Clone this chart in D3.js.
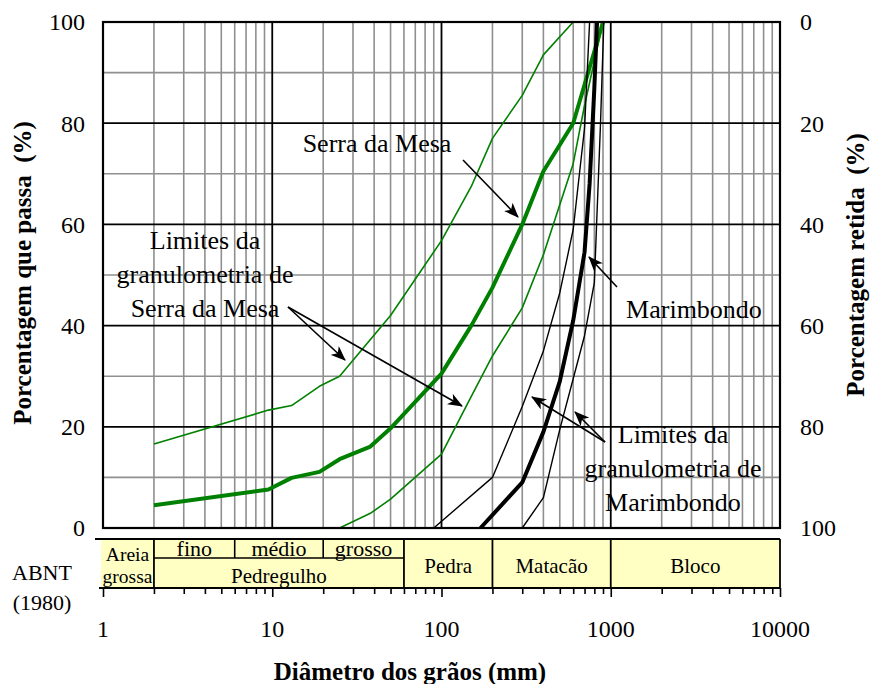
<!DOCTYPE html>
<html>
<head>
<meta charset="utf-8">
<title>Curvas granulométricas</title>
<script src="https://cdn.jsdelivr.net/npm/d3@7"></script>
<style>
  body { margin: 0; background: #fff; }
</style>
</head>
<body>
<div id="chart"></div>
<script>
// curves: [diameter (mm), % passing]
var serraMesa = [[2,4.5],[9.5,7.6],[13,9.9],[19,11.1],[25,13.6],[38,16.1],[50,19.7],[100,30.5],[150,40],[200,47.5],[300,60],[400,70.5],[600,80],[900,100]];
var serraMesaSup = [[2,16.6],[9.5,23.3],[13,24.2],[19,28],[25,30],[50,42],[100,56.8],[150,67.5],[200,77],[300,85.5],[400,93.5],[600,100]];
var serraMesaInf = [[25,0],[38,2.9],[50,5.7],[100,14.6],[150,26],[200,34],[300,43.5],[400,54],[600,72],[700,83.5],[900,100]];
var marimbondo = [[170,0],[300,9],[400,19],[500,29],[600,41],[700,54.5],[750,68],[800,87],[830,100]];
var marimbondoSup = [[90,0],[200,10],[300,24],[400,35],[500,46.5],[600,59],[700,79],[750,100]];
var marimbondoInf = [[300,0],[400,6],[500,19.5],[600,29.5],[700,38],[800,48.5],[870,80],[910,100]];

// ABNT (1980) classes
var classesMain = [{name:["Areia","grossa"], from:1, to:2}, {name:["Pedregulho"], from:2, to:60}, {name:["Pedra"], from:60, to:200}, {name:["Matacão"], from:200, to:1000}, {name:["Bloco"], from:1000, to:10000}];
var classesSub = [{name:"fino", from:2, to:6}, {name:"médio", from:6, to:20}, {name:"grosso", from:20, to:60}];

var yTicks = [0, 20, 40, 60, 80, 100];
var xTickLabels = [1, 10, 100, 1000, 10000];

var W = 870, H = 684;
var svg = d3.select("#chart").append("svg").attr("width", W).attr("height", H)
  .attr("font-family", "'Liberation Serif', 'Times New Roman', 'DejaVu Serif', serif");

var x = d3.scaleLog().domain([1, 10000]).range([103, 780]);
var y = d3.scaleLinear().domain([0, 100]).range([528, 22]);
var yRet = d3.scaleLinear().domain([100, 0]).range([528, 22]);

// arrow head
svg.append("defs").append("marker")
  .attr("id", "arrow").attr("markerUnits", "userSpaceOnUse")
  .attr("markerWidth", 16).attr("markerHeight", 12)
  .attr("refX", 14).attr("refY", 6).attr("orient", "auto")
  .append("path").attr("d", "M0,0 L15,6 L0,12 L4,6 Z").attr("fill", "#000");

// grid
var grid = svg.append("g");
var minorX = x.ticks().filter(function(d) { return Math.abs(Math.log10(d) % 1) > 1e-6; });
var majorX = [10, 100, 1000];
grid.selectAll(".gx").data(minorX).enter().append("line")
  .attr("x1", function(d) { return x(d); }).attr("x2", function(d) { return x(d); })
  .attr("y1", y(0)).attr("y2", y(100))
  .attr("stroke", "#8f8f8f").attr("stroke-width", 1.6);
grid.selectAll(".gy").data(d3.range(10, 100, 20)).enter().append("line")
  .attr("x1", x(1)).attr("x2", x(10000))
  .attr("y1", function(d) { return y(d); }).attr("y2", function(d) { return y(d); })
  .attr("stroke", "#8f8f8f").attr("stroke-width", 1.6);
grid.selectAll(".mx").data(majorX).enter().append("line")
  .attr("x1", function(d) { return x(d); }).attr("x2", function(d) { return x(d); })
  .attr("y1", y(0)).attr("y2", y(100))
  .attr("stroke", "#000").attr("stroke-width", 1.8);
grid.selectAll(".my").data([20, 40, 60, 80]).enter().append("line")
  .attr("x1", x(1)).attr("x2", x(10000))
  .attr("y1", function(d) { return y(d); }).attr("y2", function(d) { return y(d); })
  .attr("stroke", "#000").attr("stroke-width", 1.8);

// curves
var line = d3.line().x(function(d) { return x(d[0]); }).y(function(d) { return y(d[1]); });
var curves = [
  {data: serraMesaSup, color: "#008000", w: 1.6},
  {data: serraMesaInf, color: "#008000", w: 1.6},
  {data: serraMesa, color: "#008000", w: 4},
  {data: marimbondoSup, color: "#000", w: 1.4},
  {data: marimbondoInf, color: "#000", w: 1.4},
  {data: marimbondo, color: "#000", w: 4}
];
svg.append("g").selectAll("path").data(curves).enter().append("path")
  .attr("d", function(c) { return line(c.data); })
  .attr("fill", "none").attr("stroke", function(c) { return c.color; })
  .attr("stroke-width", function(c) { return c.w; })
  .attr("stroke-linejoin", "round");

// plot border
svg.append("rect").attr("x", x(1)).attr("y", y(100))
  .attr("width", x(10000) - x(1)).attr("height", y(0) - y(100))
  .attr("fill", "none").attr("stroke", "#000").attr("stroke-width", 2.2);

// y labels
svg.append("g").selectAll("text").data(yTicks).enter().append("text")
  .attr("x", 85).attr("y", function(d) { return y(d); }).attr("dy", "0.35em")
  .attr("text-anchor", "end").attr("font-size", 24).text(function(d) { return d; });
svg.append("g").selectAll("text").data(yTicks).enter().append("text")
  .attr("x", 800).attr("y", function(d) { return yRet(d); }).attr("dy", "0.35em")
  .attr("text-anchor", "start").attr("font-size", 24).text(function(d) { return d; });

svg.append("text").attr("transform", "translate(31,273) rotate(-90)")
  .attr("text-anchor", "middle").attr("font-size", 25).attr("font-weight", "bold")
  .attr("xml:space", "preserve").text("Porcentagem que passa  (%)");
svg.append("text").attr("transform", "translate(864,265) rotate(-90)")
  .attr("text-anchor", "middle").attr("font-size", 25).attr("font-weight", "bold")
  .attr("xml:space", "preserve").text("Porcentagem retida  (%)");

// ABNT band
var bandTop = 539, bandMid = 558, bandBot = 588;
var band = svg.append("g");
band.append("rect").attr("x", 101).attr("y", bandTop)
  .attr("width", x(10000) - 101).attr("height", bandBot - bandTop).attr("fill", "#ffffc4");
band.append("line").attr("x1", 95).attr("x2", x(10000)).attr("y1", bandTop).attr("y2", bandTop)
  .attr("stroke", "#000").attr("stroke-width", 1.8);
band.selectAll(".sep").data(classesMain.map(function(c) { return c.to; })).enter().append("line")
  .attr("x1", function(d) { return x(d); }).attr("x2", function(d) { return x(d); })
  .attr("y1", bandTop).attr("y2", bandBot).attr("stroke", "#000").attr("stroke-width", 1.8);
band.selectAll(".ssep").data(classesSub.slice(1)).enter().append("line")
  .attr("x1", function(d) { return x(d.from); }).attr("x2", function(d) { return x(d.from); })
  .attr("y1", bandTop).attr("y2", bandMid).attr("stroke", "#000").attr("stroke-width", 1.6);
band.append("line").attr("x1", x(2)).attr("x2", x(60)).attr("y1", bandMid).attr("y2", bandMid)
  .attr("stroke", "#000").attr("stroke-width", 1.6);
band.selectAll(".sub").data(classesSub).enter().append("text")
  .attr("x", function(d) { return (x(d.from) + x(d.to)) / 2; }).attr("y", 556)
  .attr("text-anchor", "middle").attr("font-size", 22).text(function(d) { return d.name; });
classesMain.forEach(function(c) {
  var cx = (x(c.from) + x(c.to)) / 2;
  if (c.from === 1) cx = (101 + x(c.to)) / 2;
  var two = c.name.length === 2;
  var ys = two ? [561, 583] : (c.from === 2 ? [583] : [573]);
  c.name.forEach(function(t, i) {
    band.append("text").attr("x", cx).attr("y", ys[i]).attr("text-anchor", "middle")
      .attr("font-size", two ? 19.5 : 21).text(t);
  });
});

// x axis under band
var xAxis = d3.axisBottom(x).tickValues(x.ticks()).tickSize(5).tickFormat("");
var gx = svg.append("g").attr("transform", "translate(0," + bandBot + ")").call(xAxis);
gx.select(".domain").attr("d", "M99,0H" + x(10000)).attr("stroke", "#000").attr("stroke-width", 1.8);
gx.selectAll(".tick line").attr("stroke", "#000").attr("stroke-width", 1.6)
  .attr("y2", function(d) { return Math.abs(Math.log10(d) % 1) < 1e-6 ? 9 : 6; });
svg.append("g").selectAll("text").data(xTickLabels).enter().append("text")
  .attr("x", function(d) { return x(d); }).attr("y", 637).attr("text-anchor", "middle")
  .attr("font-size", 24).text(function(d) { return d; });

svg.append("text").attr("x", 42).attr("y", 580).attr("text-anchor", "middle").attr("font-size", 22).text("ABNT");
svg.append("text").attr("x", 42).attr("y", 610).attr("text-anchor", "middle").attr("font-size", 22).text("(1980)");

svg.append("text").attr("x", 410).attr("y", 680).attr("text-anchor", "middle")
  .attr("font-size", 25).attr("font-weight", "bold").text("Diâmetro dos grãos (mm)");

// annotations
var notes = [
  {lines: ["Serra da Mesa"], x: 377, y: 152},
  {lines: ["Limites da", "granulometria de", "Serra da Mesa"], x: 205, y: 249},
  {lines: ["Marimbondo"], x: 694, y: 318},
  {lines: ["Limites da", "granulometria de", "Marimbondo"], x: 673, y: 443}
];
notes.forEach(function(n) {
  n.lines.forEach(function(t, i) {
    svg.append("text").attr("x", n.x).attr("y", n.y + i * 34).attr("text-anchor", "middle")
      .attr("font-size", 26).text(t);
  });
});
var arrows = [
  [463, 160, 518, 217],
  [288, 307, 345, 360],
  [288, 307, 462, 406],
  [617, 287, 589, 257],
  [605, 442, 575, 412],
  [605, 442, 532, 397]
];
svg.append("g").selectAll("line").data(arrows).enter().append("line")
  .attr("x1", function(a) { return a[0]; }).attr("y1", function(a) { return a[1]; })
  .attr("x2", function(a) { return a[2]; }).attr("y2", function(a) { return a[3]; })
  .attr("stroke", "#000").attr("stroke-width", 1.6).attr("marker-end", "url(#arrow)");
</script>
</body>
</html>
